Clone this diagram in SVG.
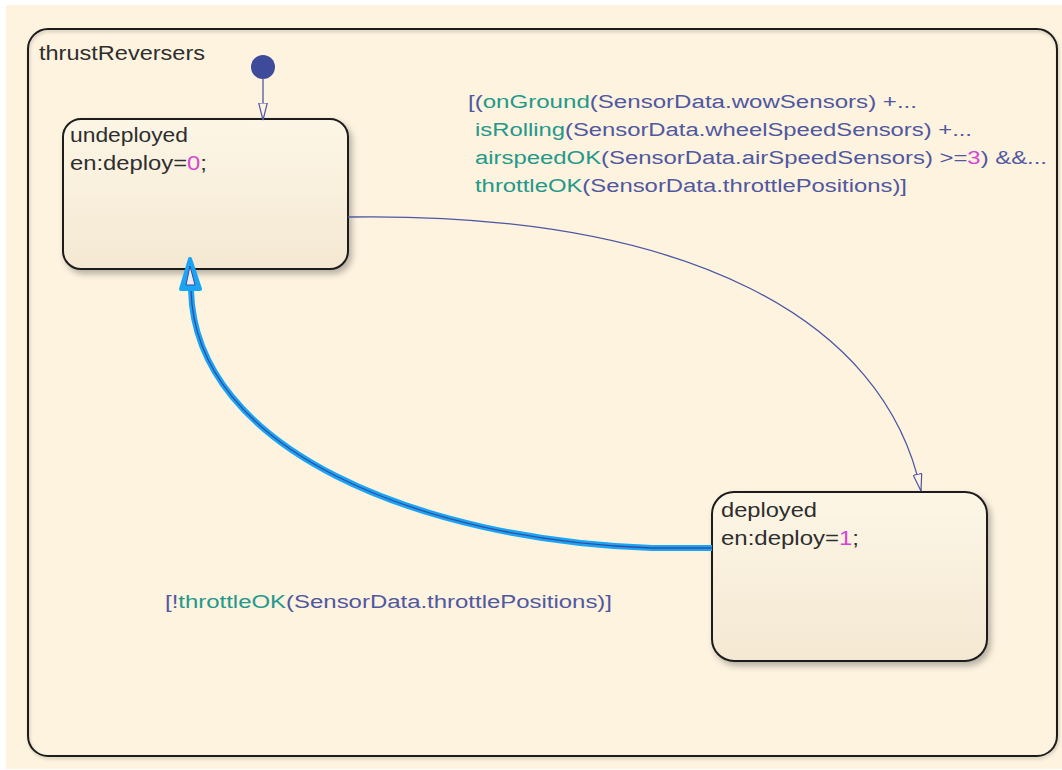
<svg xmlns="http://www.w3.org/2000/svg" width="1062" height="770" viewBox="0 0 1062 770">
<style>
.t{font-family:"Liberation Sans",Arial,sans-serif;font-size:20px;fill:#2e2e2e}
.l{font-family:"Liberation Sans",Arial,sans-serif;font-size:18px;fill:#5058a0}
.fn{fill:#24988a}
.num{fill:#d646d2}
.state{stroke:#1c1c1c;stroke-width:2;fill:url(#sg);filter:url(#sh)}
.tr{fill:none;stroke:#4d57a3;stroke-width:1.3}
</style>
<defs>
<linearGradient id="sg" x1="0" y1="0" x2="0" y2="1">
<stop offset="0" stop-color="#fdf6e6"/>
<stop offset="1" stop-color="#f4e8d2"/>
</linearGradient>
<filter id="sh" x="-10%" y="-10%" width="125%" height="130%">
<feDropShadow dx="3" dy="4" stdDeviation="3" flood-color="#000" flood-opacity="0.28"/>
</filter>
<filter id="sh2" x="-5%" y="-5%" width="110%" height="110%">
<feDropShadow dx="1" dy="2" stdDeviation="1.5" flood-color="#000" flood-opacity="0.2"/>
</filter>
<marker id="ah" markerUnits="userSpaceOnUse" viewBox="0 0 18 10" refX="17.5" refY="5" markerWidth="18" markerHeight="10" orient="auto">
<path d="M0.5,0.7 L17.5,5 L0.5,9.3 Z" fill="#fdf3df" stroke="#4d57a3" stroke-width="1.2"/>
</marker>
</defs>
<rect x="0" y="0" width="1062" height="770" fill="#ffffff"/>
<rect x="6" y="5" width="1056" height="764" fill="#fdf3df"/>

<g id="thrustReversers">
<rect x="28" y="29" width="1029" height="727" rx="20" fill="none" stroke="#1e1e1e" stroke-width="2" filter="url(#sh2)"/>
<text class="t" x="39" y="60" textLength="166" lengthAdjust="spacingAndGlyphs">thrustReversers</text>
</g>

<g id="initial">
<circle cx="263" cy="67" r="12" fill="#3e4a9a"/>
</g>

<g id="undeployed">
<rect class="state" x="63" y="119" width="285" height="150" rx="18"/>
<text class="t" x="70" y="142" textLength="118" lengthAdjust="spacingAndGlyphs">undeployed</text>
<text class="t" x="70" y="170" textLength="137" lengthAdjust="spacingAndGlyphs">en:deploy=<tspan class="num">0</tspan>;</text>
</g>

<g id="deployed">
<rect class="state" x="712" y="492" width="275" height="169" rx="22"/>
<text class="t" x="721" y="517" textLength="96" lengthAdjust="spacingAndGlyphs">deployed</text>
<text class="t" x="721" y="545" textLength="138" lengthAdjust="spacingAndGlyphs">en:deploy=<tspan class="num">1</tspan>;</text>
</g>

<g id="connectors">
<path class="tr" d="M263,79 L263,120" marker-end="url(#ah)"/>
<path class="tr" d="M348,217 C690,212 885,320 921,491" marker-end="url(#ah)"/>
<path d="M712,548 L652,548 C420,540 195,450 191,290" fill="none" stroke="#19a5f4" stroke-width="6"/>
<path d="M712,548 L652,548 C420,540 195,450 191,290" fill="none" stroke="#3b4a9e" stroke-width="1.3"/>
<polygon points="190,259 181,289 200,289" fill="#19a5f4" stroke="#19a5f4" stroke-width="4" stroke-linejoin="round"/>
<polygon points="190,266 186,285 195,285" fill="#ece8ee" stroke="#3b4a9e" stroke-width="1"/>
</g>

<g id="labels">
<text class="l" x="468" y="108" textLength="449" lengthAdjust="spacingAndGlyphs">[(<tspan class="fn">onGround</tspan>(SensorData.wowSensors) +...</text>
<text class="l" x="475" y="136" textLength="497" lengthAdjust="spacingAndGlyphs"><tspan class="fn">isRolling</tspan>(SensorData.wheelSpeedSensors) +...</text>
<text class="l" x="475" y="164" textLength="572" lengthAdjust="spacingAndGlyphs"><tspan class="fn">airspeedOK</tspan>(SensorData.airSpeedSensors) &gt;=<tspan class="num">3</tspan>) &amp;&amp;...</text>
<text class="l" x="475" y="192" textLength="432" lengthAdjust="spacingAndGlyphs"><tspan class="fn">throttleOK</tspan>(SensorData.throttlePositions)]</text>
<text class="l" x="165" y="608" textLength="447" lengthAdjust="spacingAndGlyphs">[!<tspan class="fn">throttleOK</tspan>(SensorData.throttlePositions)]</text>
</g>
</svg>
